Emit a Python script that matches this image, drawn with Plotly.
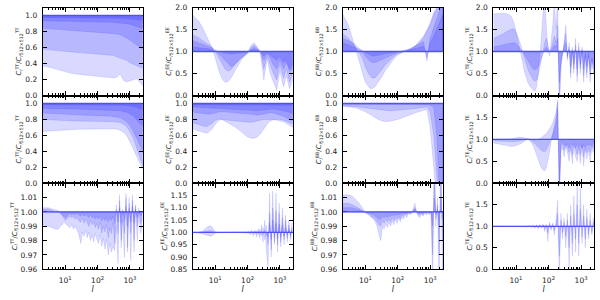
import math
import plotly.graph_objects as go
from plotly.subplots import make_subplots

# ---------------- data ----------------
ell_smooth = [2, 3, 4, 5, 6, 8, 10, 13, 16, 20, 25, 32, 40, 50, 63, 80, 100, 130, 160,
              200, 250, 320, 400, 500, 630, 800, 1000, 1300, 1600, 2000, 2500]
ell_fine = [2, 3, 4, 5, 6, 7, 8, 9, 10, 12, 14, 16, 18, 20, 23, 26, 30, 34, 38, 43, 48, 54,
            60, 68, 76, 85, 95, 107, 120, 135, 150, 170, 190, 215, 240, 270, 300, 340, 380,
            430, 480, 540, 600, 680, 760, 850, 950, 1070, 1200, 1350, 1500, 1700, 1900,
            2150, 2400]

# Row 1 (ratio of full-sky spectra)
tt_r1 = [
    [0.975,0.975,0.975,0.974,0.974,0.974,0.973,0.973,0.973,0.972,0.972,0.972,0.971,0.971,0.971,0.970,0.970,0.970,0.969,0.969,0.968,0.968,0.967,0.966,0.965,0.963,0.960,0.955,0.950,0.945,0.940],
    [0.935,0.934,0.933,0.932,0.931,0.930,0.929,0.928,0.927,0.926,0.925,0.924,0.923,0.922,0.921,0.920,0.919,0.918,0.917,0.916,0.915,0.913,0.911,0.908,0.904,0.898,0.890,0.878,0.865,0.850,0.835],
    [0.84,0.835,0.83,0.825,0.822,0.818,0.815,0.81,0.808,0.805,0.803,0.80,0.798,0.795,0.793,0.79,0.788,0.785,0.783,0.78,0.778,0.775,0.77,0.76,0.745,0.72,0.69,0.66,0.63,0.60,0.58],
    [0.58,0.575,0.57,0.565,0.56,0.555,0.55,0.545,0.54,0.538,0.535,0.532,0.53,0.528,0.525,0.522,0.52,0.518,0.515,0.51,0.505,0.50,0.48,0.47,0.46,0.44,0.41,0.39,0.37,0.35,0.34],
    [0.37,0.36,0.345,0.33,0.32,0.305,0.295,0.285,0.275,0.27,0.265,0.26,0.255,0.25,0.248,0.245,0.24,0.235,0.23,0.228,0.225,0.22,0.23,0.27,0.19,0.17,0.18,0.2,0.21,0.17,0.12],
]
ee_r1 = [
    [1.82,1.7,1.55,1.4,1.28,1.08,0.85,0.55,0.38,0.3,0.32,0.42,0.55,0.68,0.8,0.9,0.97,1.15,1.2,1.1,0.95,0.35,0.85,0.5,0.3,0.12,0.55,0.2,0.45,0.15,0.35],
    [1.38,1.32,1.25,1.2,1.16,1.1,1.0,0.85,0.7,0.6,0.55,0.6,0.7,0.78,0.85,0.92,0.98,1.1,1.15,1.08,1.0,0.6,0.9,0.7,0.5,0.35,0.7,0.4,0.6,0.3,0.5],
    [1.25,1.2,1.17,1.15,1.13,1.08,1.02,0.95,0.88,0.8,0.72,0.65,0.7,0.78,0.85,0.9,0.95,1.05,1.1,1.05,1.0,0.8,0.95,0.85,0.7,0.6,0.8,0.6,0.75,0.55,0.6],
    [1.1,1.09,1.08,1.07,1.06,1.04,1.02,1.0,0.98,0.96,0.95,0.94,0.95,0.96,0.97,0.98,0.99,1.03,1.05,1.02,1.0,0.9,0.98,0.92,0.85,0.8,0.88,0.75,0.8,0.6,0.7],
]
bb_r1 = [
    [1.85,1.6,1.3,1.05,0.85,0.5,0.3,0.18,0.15,0.2,0.3,0.42,0.55,0.65,0.75,0.85,0.92,0.97,1.0,1.02,1.05,1.1,1.15,1.22,1.32,1.45,1.6,1.85,2.0,2.1,2.1],
    [1.4,1.3,1.2,1.1,1.02,0.85,0.65,0.48,0.4,0.4,0.48,0.58,0.68,0.76,0.83,0.9,0.95,0.98,1.0,1.02,1.05,1.1,1.18,1.25,1.35,1.5,1.65,1.9,2.0,2.1,2.1],
    [1.3,1.25,1.2,1.15,1.1,1.0,0.9,0.8,0.75,0.75,0.78,0.82,0.85,0.88,0.92,0.95,0.98,1.0,1.02,1.05,1.08,1.12,1.15,1.2,1.22,0.78,1.3,1.55,1.75,1.95,2.05],
    [1.2,1.15,1.12,1.1,1.08,1.03,0.98,0.93,0.9,0.9,0.91,0.93,0.95,0.96,0.97,0.98,0.99,1.0,1.01,1.02,1.04,1.06,1.08,1.1,1.12,0.85,1.2,1.35,1.5,1.7,1.85],
]
te_r1 = [
    [1.85,1.87,1.87,1.86,1.84,1.8,1.72,1.6,1.45,1.2,1.0,0.75,0.55,0.42,0.3,0.22,0.16,0.12,0.1,0.2,0.5,0.9,1.3,1.9,2.2,1.6,1.1,0.9,1.2,1.6,2.2,1.5,2.3,-0.5,0.6,0.9,1.3,1.6,0.8,1.2,0.4,1.1,0.5,1.3,0.3,1.2,0.5,1.1,0.3,0.9,0.4,1.0,0.3,0.8,0.5],
    [1.3,1.35,1.4,1.45,1.48,1.5,1.52,1.5,1.45,1.3,1.15,1.0,0.85,0.72,0.6,0.5,0.4,0.35,0.32,0.35,0.45,0.6,0.8,1.0,1.2,1.3,1.15,1.0,1.05,1.2,1.35,1.2,1.6,0.0,0.7,0.95,1.2,1.4,0.85,1.1,0.5,1.05,0.6,1.15,0.45,1.1,0.6,1.05,0.45,0.95,0.5,0.95,0.45,0.85,0.6],
    [1.1,1.12,1.15,1.17,1.18,1.2,1.2,1.2,1.18,1.12,1.05,1.0,0.93,0.87,0.8,0.72,0.65,0.6,0.58,0.6,0.65,0.75,0.85,0.95,1.05,1.1,1.05,1.0,1.02,1.08,1.15,1.1,1.3,0.3,0.8,0.98,1.1,1.2,0.9,1.05,0.65,1.0,0.7,1.05,0.6,1.0,0.7,1.0,0.6,0.95,0.65,0.9,0.6,0.85,0.7],
]

# Row 2
tt_r2 = [
    [0.985,0.985,0.985,0.985,0.985,0.985,0.985,0.985,0.984,0.984,0.984,0.984,0.984,0.983,0.983,0.983,0.983,0.982,0.982,0.982,0.981,0.981,0.980,0.979,0.977,0.974,0.970,0.962,0.952,0.940,0.925],
    [0.94,0.94,0.938,0.937,0.936,0.935,0.934,0.933,0.932,0.931,0.930,0.929,0.928,0.927,0.926,0.925,0.924,0.923,0.922,0.921,0.920,0.918,0.915,0.91,0.90,0.89,0.87,0.84,0.80,0.76,0.72],
    [0.88,0.875,0.872,0.87,0.868,0.866,0.864,0.862,0.86,0.858,0.856,0.855,0.854,0.853,0.852,0.85,0.848,0.846,0.844,0.842,0.84,0.835,0.83,0.82,0.80,0.77,0.72,0.65,0.57,0.48,0.40],
    [0.80,0.795,0.79,0.788,0.786,0.784,0.782,0.78,0.78,0.78,0.78,0.78,0.78,0.78,0.78,0.78,0.779,0.778,0.777,0.776,0.775,0.772,0.768,0.76,0.74,0.71,0.65,0.56,0.45,0.34,0.22],
    [0.65,0.655,0.66,0.665,0.668,0.67,0.672,0.674,0.675,0.676,0.677,0.678,0.679,0.68,0.68,0.68,0.681,0.682,0.683,0.684,0.685,0.683,0.678,0.665,0.64,0.6,0.52,0.42,0.33,0.25,0.18],
]
ee_r2 = [
    [0.985,0.985,0.985,0.984,0.984,0.984,0.984,0.984,0.984,0.984,0.983,0.983,0.983,0.983,0.983,0.983,0.983,0.983,0.982,0.982,0.982,0.982,0.982,0.982,0.981,0.981,0.98,0.98,0.979,0.978,0.977],
    [0.955,0.952,0.948,0.945,0.942,0.94,0.938,0.936,0.934,0.932,0.93,0.928,0.926,0.924,0.922,0.92,0.918,0.915,0.912,0.91,0.912,0.918,0.925,0.93,0.93,0.925,0.92,0.91,0.9,0.89,0.87],
    [0.89,0.885,0.88,0.87,0.865,0.87,0.88,0.895,0.9,0.895,0.89,0.885,0.88,0.878,0.875,0.872,0.87,0.862,0.855,0.855,0.86,0.87,0.88,0.885,0.88,0.87,0.855,0.84,0.82,0.8,0.78],
    [0.76,0.74,0.72,0.71,0.72,0.75,0.79,0.805,0.80,0.795,0.79,0.785,0.78,0.775,0.77,0.768,0.765,0.765,0.77,0.78,0.79,0.80,0.80,0.80,0.795,0.79,0.785,0.77,0.75,0.73,0.70],
    [0.68,0.66,0.64,0.63,0.635,0.68,0.74,0.79,0.80,0.78,0.76,0.74,0.71,0.68,0.65,0.61,0.58,0.565,0.565,0.58,0.62,0.68,0.74,0.78,0.80,0.80,0.80,0.79,0.78,0.76,0.74],
]
bb_r2 = [
    [0.99,0.99,0.99,0.99,0.99,0.99,0.99,0.99,0.99,0.99,0.99,0.99,0.99,0.99,0.99,0.99,0.99,0.99,0.99,0.99,0.99,0.99,0.99,0.99,0.99,0.985,0.98,0.95,0.6,-0.2,-0.5],
    [0.97,0.968,0.965,0.96,0.955,0.948,0.942,0.935,0.93,0.925,0.92,0.915,0.912,0.91,0.91,0.912,0.915,0.918,0.92,0.925,0.93,0.935,0.94,0.945,0.95,0.955,0.9,0.6,0.1,-0.5,-0.8],
    [0.965,0.96,0.955,0.945,0.935,0.915,0.895,0.87,0.845,0.82,0.8,0.785,0.775,0.775,0.78,0.79,0.8,0.815,0.83,0.845,0.86,0.875,0.89,0.905,0.915,0.92,0.7,0.2,-0.4,-0.8,-1.0],
]
te_r2 = [
    [1.0,1.0,1.0,1.0,1.0,1.01,1.02,1.03,1.04,1.05,1.05,1.05,1.04,1.03,1.02,1.0,0.99,0.98,0.98,0.99,1.0,1.02,1.04,1.07,1.1,1.14,1.18,1.23,1.3,1.38,1.48,1.62,1.9,-0.3,0.9,0.93,0.88,0.85,0.9,0.8,0.9,0.85,0.92,0.8,0.9,0.82,0.9,0.8,0.88,0.82,0.9,0.85,0.88,0.85,0.9],
    [0.92,0.9,0.88,0.86,0.85,0.84,0.84,0.85,0.86,0.88,0.9,0.93,0.96,0.98,1.0,0.98,0.92,0.85,0.75,0.63,0.52,0.42,0.35,0.3,0.28,0.35,0.5,0.7,0.95,1.15,1.3,1.5,1.85,-0.5,0.75,0.8,0.6,0.85,0.7,0.5,0.8,0.45,0.85,0.6,0.5,0.8,0.45,0.85,0.4,0.8,0.55,0.75,0.5,0.8,0.7],
    [0.97,0.96,0.95,0.945,0.94,0.94,0.94,0.945,0.95,0.96,0.97,0.98,0.99,1.0,1.0,0.99,0.97,0.94,0.9,0.86,0.82,0.78,0.75,0.73,0.72,0.75,0.82,0.92,1.02,1.12,1.22,1.38,1.7,0.0,0.85,0.88,0.75,0.9,0.8,0.7,0.85,0.65,0.9,0.75,0.65,0.85,0.65,0.9,0.6,0.85,0.7,0.8,0.7,0.85,0.8],
]

# Row 3
tt_r3 = [
    [0.991,0.990,0.989,0.988,0.988,0.990,0.991,0.993,0.992,0.990,0.989,0.991,0.988,0.990,0.987,0.985,0.978,0.986,0.983,0.987,0.982,0.986,0.980,0.984,0.979,0.985,0.981,0.978,0.984,0.976,0.982,0.974,0.981,0.970,0.978,0.972,0.976,0.973,0.990,0.964,1.012,0.975,0.995,0.968,1.013,0.972,1.010,0.966,1.008,0.972,1.005,0.980,1.000,0.985,0.990],
    [1.003,1.003,1.002,1.0015,1.001,1.0,0.998,0.996,0.994,0.996,0.997,0.996,0.997,0.995,0.996,0.994,0.993,0.996,0.992,0.995,0.993,0.990,0.994,0.991,0.993,0.989,0.992,0.988,0.993,0.985,0.990,0.986,0.991,0.982,0.989,0.985,0.993,0.978,1.005,0.985,1.008,0.980,1.002,0.985,1.010,0.975,1.006,0.985,1.012,0.980,1.004,0.990,1.003,0.992,0.995],
    [1.002,1.002,1.001,1.0,1.0,0.999,0.998,0.997,0.996,0.998,0.999,0.998,0.999,0.998,0.999,0.998,0.997,0.999,0.997,0.998,0.997,0.996,0.998,0.996,0.997,0.995,0.997,0.995,0.997,0.994,0.996,0.994,0.996,0.993,0.996,0.994,0.997,0.992,1.002,0.993,1.003,0.992,1.001,0.994,1.004,0.990,1.003,0.993,1.004,0.992,1.002,0.996,1.001,0.997,0.998],
]
ee_r3 = [
    [1.0,1.0,1.005,1.015,1.025,1.027,1.022,1.012,1.003,0.998,
     1.0,1.001,0.999,1.0,1.001,0.999,1.0,1.0,0.999,1.001,1.0,0.999,1.001,1.0,0.998,1.002,
     0.995,1.005,0.99,1.01,0.985,1.01,0.98,1.015,0.975,1.03,0.96,1.05,0.93,0.86,1.16,0.9,1.17,0.95,1.16,0.92,1.12,0.94,1.1,0.95,1.07,0.96,1.05,0.97,1.04],
    [1.0,0.998,0.995,0.99,0.986,0.985,0.987,0.992,0.997,1.0,
     1.0,0.999,1.001,1.0,0.999,1.001,1.0,1.0,1.001,0.999,1.0,1.001,0.999,1.0,1.002,0.998,
     1.002,0.997,1.004,0.995,1.006,0.993,1.008,0.99,1.012,0.985,1.02,0.97,1.03,0.95,1.08,0.93,1.1,0.96,1.09,0.95,1.08,0.96,1.06,0.97,1.05,0.975,1.03,0.98,1.02],
    [1.0,1.0,1.002,1.005,1.008,1.008,1.006,1.003,1.0,1.0,
     1.0,1.0,1.0,1.0,1.0,1.0,1.0,1.0,1.0,1.0,1.0,1.0,1.0,1.0,1.0,1.0,
     1.0,1.001,0.999,1.002,0.998,1.003,0.997,1.004,0.996,1.006,0.994,1.01,0.99,0.98,1.04,0.97,1.05,0.98,1.04,0.975,1.035,0.98,1.03,0.985,1.02,0.99,1.015,0.99,1.01],
]
bb_r3 = [
    [1.012,1.012,1.011,1.009,1.007,1.005,1.003,1.001,1.0,0.999,0.998,0.996,0.995,0.993,0.99,0.985,0.98,0.99,0.988,0.992,0.989,0.993,0.99,0.994,0.991,0.995,0.992,0.996,0.993,0.997,0.995,0.998,0.996,0.999,0.998,0.999,1.002,1.006,1.0,0.997,0.996,0.999,0.997,0.999,0.998,0.999,0.998,1.0,0.95,1.05,0.99,1.01,0.93,1.06,0.95],
    [1.006,1.006,1.005,1.004,1.003,1.002,1.001,1.0,0.999,0.998,0.997,0.996,0.996,0.995,0.993,0.991,0.99,0.994,0.992,0.995,0.993,0.995,0.993,0.996,0.994,0.996,0.995,0.997,0.995,0.998,0.997,0.999,0.998,1.0,0.999,1.0,1.001,1.003,1.0,0.998,0.998,0.999,0.998,1.0,0.999,1.0,0.999,1.0,0.97,1.03,0.995,1.005,0.97,1.03,0.98],
    [1.003,1.003,1.003,1.002,1.002,1.001,1.001,1.0,1.0,0.999,0.999,0.998,0.998,0.997,0.996,0.995,0.995,0.997,0.996,0.997,0.996,0.997,0.997,0.998,0.997,0.998,0.998,0.998,0.998,0.999,0.999,0.999,0.999,1.0,0.999,1.0,1.001,1.002,1.0,0.999,0.999,1.0,0.999,1.0,1.0,1.0,1.0,1.0,0.99,1.01,0.998,1.002,0.99,1.01,0.995],
]
te_r3 = [
    [1.0,1.0,1.0,1.0,0.995,0.99,0.995,1.0,1.0,0.99,1.0,1.0,0.995,1.0,0.98,1.02,0.97,1.03,0.95,1.04,0.93,1.05,0.95,1.06,0.88,1.05,0.65,1.1,0.9,1.08,0.8,1.1,1.6,-0.2,1.3,0.7,1.2,0.5,1.3,0.0,1.5,0.3,1.7,0.4,2.0,0.3,1.9,0.6,1.5,0.5,1.4,0.7,1.3,0.8,1.2],
    [1.0,1.0,1.0,1.0,1.0,0.995,1.0,1.0,1.0,0.995,1.0,1.0,1.0,1.0,0.99,1.01,0.985,1.015,0.975,1.02,0.965,1.025,0.975,1.03,0.94,1.03,0.85,1.05,0.95,1.04,0.9,1.05,1.3,0.3,1.15,0.85,1.1,0.75,1.15,0.5,1.25,0.6,1.3,0.7,1.5,0.6,1.4,0.75,1.25,0.7,1.2,0.8,1.15,0.85,1.1],
]

spectra = ["TT", "EE", "BB", "TE"]
yranges = [
    [[0, 1.1], [0, 2.0], [0, 2.0], [0, 2.0]],
    [[0, 1.1], [0, 1.1], [0, 1.1], [0, 2.0]],
    [[0.96, 1.02], [0.85, 1.2], [0.96, 1.02], [0, 2.0]],
]
yticks = [
    [[0, 0.2, 0.4, 0.6, 0.8, 1.0], [0, 0.5, 1.0, 1.5, 2.0], [0, 0.5, 1.0, 1.5, 2.0], [0, 0.5, 1.0, 1.5, 2.0]],
    [[0, 0.2, 0.4, 0.6, 0.8, 1.0], [0, 0.2, 0.4, 0.6, 0.8, 1.0], [0, 0.2, 0.4, 0.6, 0.8, 1.0], [0, 0.5, 1.0, 1.5]],
    [[0.96, 0.97, 0.98, 0.99, 1.00, 1.01], [0.85, 0.90, 0.95, 1.00, 1.05, 1.10, 1.15],
     [0.96, 0.97, 0.98, 0.99, 1.00, 1.01], [0, 0.5, 1.0, 1.5]],
]
ydigits = [[1, 1, 1, 1], [1, 1, 1, 1], [2, 2, 2, 1]]
x_major = [10, 100, 1000]
x_major_text = ["10<sup>1</sup>", "10<sup>2</sup>", "10<sup>3</sup>"]
x_minor = [3, 4, 5, 6, 7, 8, 9, 20, 30, 40, 50, 60, 70, 80, 90,
           200, 300, 400, 500, 600, 700, 800, 900, 2000]

panels = [
    [(ell_smooth, tt_r1), (ell_smooth, ee_r1), (ell_smooth, bb_r1), (ell_fine, te_r1)],
    [(ell_smooth, tt_r2), (ell_smooth, ee_r2), (ell_smooth, bb_r2), (ell_fine, te_r2)],
    [(ell_fine, tt_r3), (ell_fine, ee_r3), (ell_fine, bb_r3), (ell_fine, te_r3)],
]

# ---------------- layout geometry ----------------
W, H = 600, 300
col_px = [(42.7, 142.7), (192.7, 292.7), (342.7, 443.0), (493.3, 594.0)]
row_px = [(7.5, 95.5), (95.5, 183.3), (183.3, 269.3)]
xdom = [[a / W, b / W] for a, b in col_px]
ydom = [[1 - b / H, 1 - a / H] for a, b in row_px]

FILL = "rgba(0,0,255,0.15)"
EDGE = "rgba(0,0,255,0.18)"
FONT = "DejaVu Sans"

fig = make_subplots(rows=3, cols=4)

for r in range(3):
    for c in range(4):
        ell, curves = panels[r][c]
        for curve in curves:
            assert len(curve) == len(ell)
            xs = list(ell) + list(reversed(ell))
            ys = list(curve) + [1.0 for _ in ell]
            fig.add_trace(go.Scatter(x=xs, y=ys, mode="lines", fill="toself",
                                     fillcolor=FILL, line=dict(color=EDGE, width=0.6),
                                     hoverinfo="skip", showlegend=False),
                          row=r + 1, col=c + 1)
        i = r * 4 + c + 1
        xref = "x" if i == 1 else f"x{i}"
        yref = "y" if i == 1 else f"y{i}"
        fig.add_shape(type="line", xref=f"{xref} domain", yref=yref, x0=0, x1=1, y0=1, y1=1,
                      line=dict(color="rgb(80,80,255)", width=1.3))

        s = spectra[c]
        fmt = "{:.%df}" % ydigits[r][c]
        fig.update_yaxes(row=r + 1, col=c + 1, domain=ydom[r], range=yranges[r][c],
                         automargin=False,
                         tickvals=yticks[r][c], ticktext=[fmt.format(v) for v in yticks[r][c]],
                         ticks="inside", ticklen=4, tickwidth=1, tickcolor="black",
                         mirror="allticks", showline=True, linecolor="black", linewidth=1,
                         showgrid=False, zeroline=False, ticklabelstandoff=3,
                         tickfont=dict(family=FONT, size=7.5, color="#222"),
                         title=dict(text=f"<i>C</i><sub><i>l</i></sub><sup>{s}</sup>/<i>C</i><sub><i>l</i>512×512</sub><sup>{s}</sup>",
                                    font=dict(family=FONT, size=6.8, color="#222"), standoff=2))
        fig.update_xaxes(row=r + 1, col=c + 1, domain=xdom[c], type="log",
                         automargin=False,
                         range=[math.log10(2), math.log10(2500)],
                         tickvals=x_major, ticktext=x_major_text,
                         showticklabels=(r == 2), ticklabelstandoff=4,
                         ticks="inside", ticklen=4.5, tickwidth=1, tickcolor="black",
                         minor=dict(tickvals=x_minor, ticks="inside", ticklen=2.2,
                                    tickcolor="black", tickwidth=0.8, showgrid=False),
                         mirror="allticks", showline=True, linecolor="black", linewidth=1,
                         showgrid=False, zeroline=False,
                         tickfont=dict(family=FONT, size=7.5, color="#222"),
                         title=dict(text="<i>l</i>" if r == 2 else "",
                                    font=dict(family=FONT, size=8, color="#222"), standoff=1))

fig.update_layout(width=W, height=H, margin=dict(l=0, r=0, t=0, b=0, autoexpand=False),
                  plot_bgcolor="white", paper_bgcolor="white", showlegend=False,
                  font=dict(family=FONT, size=7.5, color="#222"))

fig.write_html("out.html", config={"displayModeBar": False},
               post_script="document.body.style.margin='0px';document.body.style.overflow='hidden';")
